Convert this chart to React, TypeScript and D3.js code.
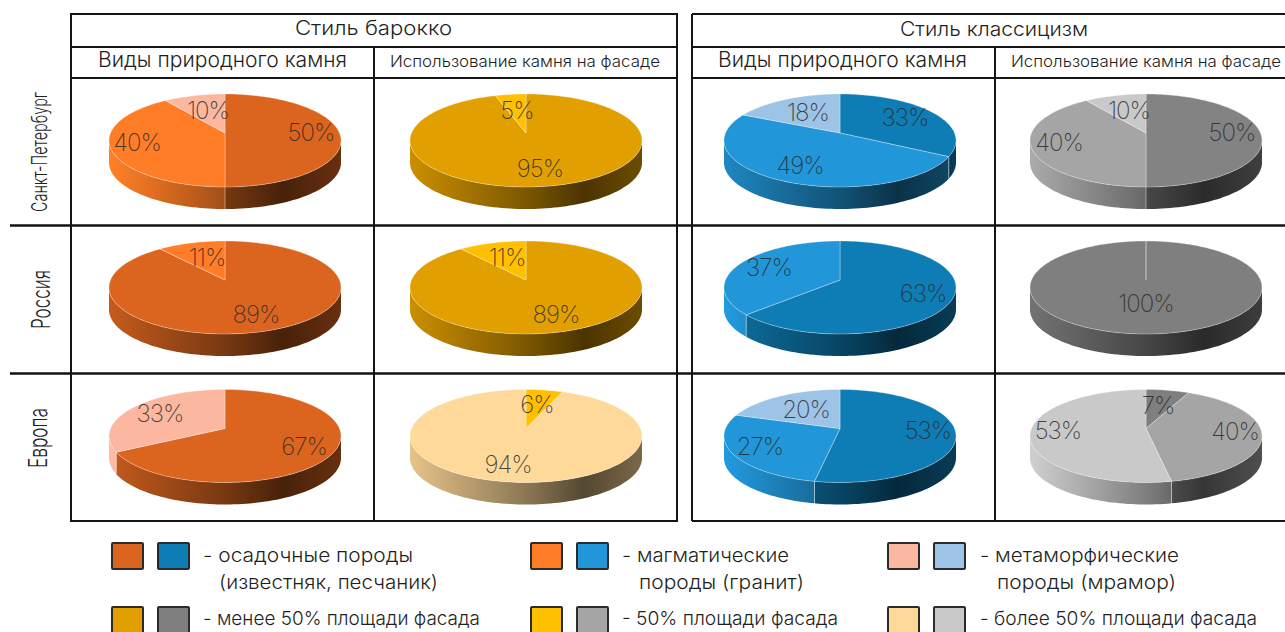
import React from "react";
import * as d3 from "d3";

// ---------- data ----------
const spbBaroqueStone = [50, 40, 10];
const spbBaroqueFacade = [95, 5];
const spbClassicStone = [33, 49, 18];
const spbClassicFacade = [50, 40, 10];
const ruBaroqueStone = [89, 11];
const ruBaroqueFacade = [89, 11];
const ruClassicStone = [63, 37];
const ruClassicFacade = [100];
const euBaroqueStone = [67, 33];
const euBaroqueFacade = [6, 94];
const euClassicStone = [53, 27, 20];
const euClassicFacade = [7, 40, 53];

const orangeDark = "#db651f", orangeMid = "#ff7d26", orangeLight = "#fbb7a0";
const blueDark = "#0f7db5", blueMid = "#2196d8", blueLight = "#9dc3e6";
const goldDark = "#e29f00", goldMid = "#ffc000", goldLight = "#ffd999";
const greyDark = "#7f7f7f", greyMid = "#a5a5a5", greyLight = "#c9c9c9";

const rowLabels = ["Санкт-Петербург", "Россия", "Европа"];
const styleTitles = ["Стиль барокко", "Стиль классицизм"];
const stoneTitle = "Виды природного камня";
const facadeTitle = "Использование камня на фасаде";

// ---------- layout ----------
const columnX = [225, 526, 840, 1146];
const rowApexY = [133, 280, 428.5];
const RX = 116, K = 0.161, A = 45.3, B = 114.5, DEPTH = 22;

type PieSpec = {
  id: string; col: number; row: number; values: number[]; colors: string[];
  labels: [number, number][];
};

const pies: PieSpec[] = [
  { id: "a", col: 0, row: 0, values: spbBaroqueStone, colors: [orangeDark, orangeMid, orangeLight], labels: [[311, 132], [137, 142], [208, 110]] },
  { id: "b", col: 1, row: 0, values: spbBaroqueFacade, colors: [goldDark, goldMid], labels: [[540, 168], [517, 110]] },
  { id: "c", col: 2, row: 0, values: spbClassicStone, colors: [blueDark, blueMid, blueLight], labels: [[905, 117], [800, 165], [808, 112]] },
  { id: "d", col: 3, row: 0, values: spbClassicFacade, colors: ["#838383", greyMid, greyLight], labels: [[1232, 132], [1059, 142], [1129, 110]] },
  { id: "e", col: 0, row: 1, values: ruBaroqueStone, colors: [orangeDark, orangeMid], labels: [[256, 314], [207, 257]] },
  { id: "f", col: 1, row: 1, values: ruBaroqueFacade, colors: [goldDark, goldMid], labels: [[556, 314], [507, 257]] },
  { id: "g", col: 2, row: 1, values: ruClassicStone, colors: [blueDark, blueMid], labels: [[923, 293], [769, 267]] },
  { id: "h", col: 3, row: 1, values: ruClassicFacade, colors: [greyDark], labels: [[1146, 303]] },
  { id: "i", col: 0, row: 2, values: euBaroqueStone, colors: [orangeDark, orangeLight], labels: [[304, 446], [160, 413]] },
  { id: "j", col: 1, row: 2, values: euBaroqueFacade, colors: [goldMid, goldLight], labels: [[537, 404], [508, 464]] },
  { id: "k", col: 2, row: 2, values: euClassicStone, colors: [blueDark, blueMid, blueLight], labels: [[928, 430], [760, 446], [806, 409]] },
  { id: "l", col: 3, row: 2, values: euClassicFacade, colors: [greyDark, greyMid, greyLight], labels: [[1158, 405], [1235, 431], [1058, 430]] },
];

const FONT = "Inter, 'Noto Sans', sans-serif";
const INK = "#1f1f1f";

// perspective projection of a rim point (angle clockwise from 12 o'clock)
const project = (theta: number): [number, number] => {
  const u = Math.sin(theta), v = -Math.cos(theta), w = 1 - K * v;
  return [(B * u) / w, (A * v) / w];
};
const sample = (a: number, b: number) => {
  const n = Math.max(2, Math.ceil(Math.abs(b - a) / 0.03));
  return d3.range(n + 1).map((i) => a + ((b - a) * i) / n);
};
const line = d3.line<[number, number]>().x((d) => d[0]).y((d) => d[1]);
const pieGen = d3.pie<number>().sort(null).value((d) => d).startAngle(0).endAngle(2 * Math.PI);
const visStart = Math.acos(-K), visEnd = 2 * Math.PI - visStart;

const shadeStops: [number, number][] = [[0, 0.9], [0.2, 0.76], [0.4, 0.62], [0.5, 0.55], [0.75, 0.33], [1, 0.48]];
const shade = (c: string, f: number) => {
  const r = d3.rgb(c);
  return d3.rgb(Math.min(255, r.r * f), Math.min(255, r.g * f), Math.min(255, r.b * f)).formatHex();
};

function Pie({ spec }: { spec: PieSpec }) {
  const cx = columnX[spec.col], cy = rowApexY[spec.row];
  const arcs = pieGen(spec.values);
  const defs: React.ReactNode[] = [];
  const sides: React.ReactNode[] = [];
  const seams: React.ReactNode[] = [];
  arcs.forEach((arc, i) => {
    const a = Math.max(arc.startAngle, visStart), b = Math.min(arc.endAngle, visEnd);
    if (b <= a) return;
    const rim = sample(a, b).map(project);
    const pts = [...rim, ...[...rim].reverse().map(([x, y]) => [x, y + DEPTH] as [number, number])];
    const xMax = d3.max(rim, (p) => p[0]) as number;
    const leftOnly = xMax < RX * 0.25;
    const boost = leftOnly ? 1.15 : 1;
    const gid = `side-${spec.id}-${i}`;
    defs.push(
      <linearGradient key={gid} id={gid} gradientUnits="userSpaceOnUse" x1={-RX} x2={RX} y1={0} y2={0}>
        {shadeStops.map(([t, f]) => (
          <stop key={t} offset={t} stopColor={shade(spec.colors[i], f * boost)} />
        ))}
      </linearGradient>
    );
    sides.push(<path key={gid} d={line(pts) + "Z"} fill={`url(#${gid})`} />);
    if (a > visStart + 1e-6) {
      const [x, y] = project(a);
      seams.push(<line key={gid + "s"} x1={x} x2={x} y1={y} y2={y + DEPTH} stroke="#fff" strokeOpacity={0.55} strokeWidth={0.8} />);
    }
  });
  return (
    <g>
      <g transform={`translate(${cx},${cy})`}>
        <defs>{defs}</defs>
        {sides}
        {seams}
        {arcs.map((arc, i) => (
          <path
            key={i}
            d={line([[0, 0], ...sample(arc.startAngle, arc.endAngle).map(project)]) + "Z"}
            fill={spec.colors[i]}
            stroke="#fff"
            strokeOpacity={0.45}
            strokeWidth={0.7}
            strokeLinejoin="round"
          />
        ))}
      </g>
      {spec.values.map((v, i) => (
        <text
          key={i}
          x={spec.labels[i][0]}
          y={spec.labels[i][1]}
          textAnchor="middle"
          dominantBaseline="central"
          fontFamily={FONT}
          fontWeight={200}
          fontSize={24}
          letterSpacing={-1}
          fill="#2a2a2a"
          fillOpacity={0.85}
        >
          {v}%
        </text>
      ))}
    </g>
  );
}

const T = ({ x, y, w, size, children }: { x: number; y: number; w: number; size: number; children: string }) => (
  <text x={x} y={y} fontFamily={FONT} fontWeight={300} fontSize={size} fill={INK} textLength={w} lengthAdjust="spacingAndGlyphs">
    {children}
  </text>
);

const Swatch = ({ x, y, fill }: { x: number; y: number; fill: string }) => (
  <rect x={x} y={y} width={31} height={26} rx={1} fill={fill} stroke="#2a2a2a" strokeWidth={2} />
);

const legendRows: { swX: number[]; colors: string[]; y: number; texts: [number, number, number, string][] }[] = [
  { swX: [112, 158], colors: [orangeDark, blueDark], y: 543, texts: [[203, 562, 210, "- осадочные породы"], [219, 589, 219, "(известняк, песчаник)"]] },
  { swX: [531, 577], colors: [orangeMid, blueMid], y: 543, texts: [[622, 562, 167, "- магматические"], [639, 589, 165, "породы (гранит)"]] },
  { swX: [888, 934], colors: [orangeLight, blueLight], y: 543, texts: [[980, 562, 199, "- метаморфические"], [997, 589, 179, "породы (мрамор)"]] },
  { swX: [112, 158], colors: [goldDark, greyDark], y: 607, texts: [[203, 625, 277, "- менее 50% площади фасада"]] },
  { swX: [531, 577], colors: [goldMid, greyMid], y: 607, texts: [[622, 625, 216, "- 50% площади фасада"]] },
  { swX: [888, 934], colors: [goldLight, greyLight], y: 607, texts: [[980, 625, 277, "- более 50% площади фасада"]] },
];

export default function App() {
  const stroke = { stroke: "#141414", strokeWidth: 2, fill: "none" };
  return (
    <svg width={1285} height={632} viewBox="0 0 1285 632" style={{ position: "absolute", left: 0, top: 0, display: "block", background: "#fff" }}>
      {pies.map((p) => <Pie key={p.id} spec={p} />)}

      {/* table */}
      <rect x={71} y={14} width={606} height={507} {...stroke} />
      <path d="M692 14H1290M692 521H1290M692 14V521" {...stroke} />
      <path d="M71 47H677M71 78H677M692 47H1285M692 78H1285M374 47V521M995 47V521" {...stroke} />
      <path d="M10 225.5H1285M10 373.5H1285" {...stroke} strokeWidth={2.6} />

      <T x={295} y={35} w={157} size={20}>{styleTitles[0]}</T>
      <T x={900} y={36} w={188} size={20}>{styleTitles[1]}</T>
      <T x={98} y={67} w={249} size={21}>{stoneTitle}</T>
      <T x={718} y={67} w={249} size={21}>{stoneTitle}</T>
      <T x={390} y={67} w={270} size={16}>{facadeTitle}</T>
      <T x={1011} y={67} w={270} size={16}>{facadeTitle}</T>

      {[[47, 212, 120, 21], [50, 329, 59, 25], [47, 468, 60, 25]].map(([x, y, w, s], i) => (
        <g key={i} transform={`translate(${x},${y}) rotate(-90)`}>
          <T x={0} y={0} w={w} size={s}>{rowLabels[i]}</T>
        </g>
      ))}

      {legendRows.map((r, i) => (
        <g key={i}>
          {r.swX.map((x, j) => <Swatch key={j} x={x} y={r.y} fill={r.colors[j]} />)}
          {r.texts.map(([x, y, w, s], j) => <T key={j} x={x} y={y} w={w} size={19}>{s}</T>)}
        </g>
      ))}
    </svg>
  );
}
